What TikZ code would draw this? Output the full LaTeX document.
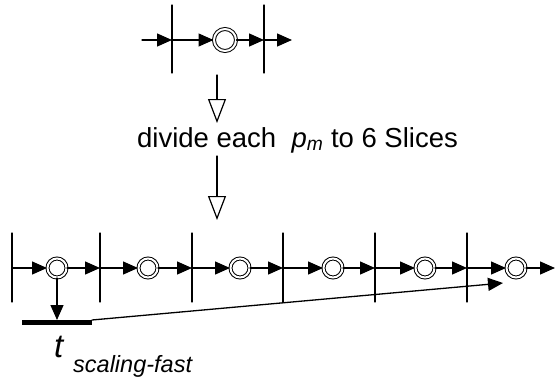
\documentclass[tikz,border=0pt]{standalone}
\usepackage{fontspec}
\setmainfont{Liberation Sans}
\usetikzlibrary{arrows.meta}

\begin{document}
\begin{tikzpicture}[x=1pt, y=-1pt, line cap=round,
  slice/.style={line width=1.3pt},
  ring/.style={circle, draw, double, double distance=2pt, line width=1pt,
    inner sep=0pt, minimum size=#1},
  flow/.style={-{Triangle[length=15pt,width=13pt]}, line width=1.3pt},
  hollow/.style={-{Triangle[open,length=24pt,width=18pt]}, line width=1.2pt}]
  \useasboundingbox (0,0) rectangle (558,383);
  % one period, before the split
  \coordinate (topin)  at (142,40);
  \coordinate (topL)   at (172,40);
  \coordinate (topR)   at (264,40);
  \coordinate (topout) at (292,40);
  \node[ring=22pt] (topring) at (225,40) {};
  \draw[slice] (topL) ++(0,-35) -- ++(0,68);
  \draw[slice] (topR) ++(0,-35) -- ++(0,68);
  \draw[flow] (topin) -- (topL);
  \draw[flow] (topL) -- (topring);
  \draw[flow] (topring) -- (topR);
  \draw[flow] (topR) -- (topout);
  % the step in between
  \node[anchor=base, inner sep=0pt] (divide) at (297.5,147)
    {\fontsize{27.5}{28}\selectfont divide each \ \textit{p}\textsubscript{\textit{m}} to 6 Slices};
  \coordinate (downA) at (217,75);
  \coordinate (downB) at (217,123);
  \coordinate (downC) at (217,156);
  \coordinate (downD) at (217,220);
  \draw[hollow] (downA) -- (downB);
  \draw[hollow] (downC) -- (downD);
  % six slices
  \foreach \v/\c [count=\i] in {12/57,100/148,192/240,283/333,375/425,467/516} {
    \coordinate (cut\i) at (\v,268);
    \node[ring=19pt] (ring\i) at (\c,268) {};
    \draw[slice] (\v,233) -- (\v,302);
    \draw[flow] (cut\i) -- (ring\i);
  }
  \foreach \i [evaluate=\i as \j using int(\i+1)] in {1,...,5}
    \draw[flow] (ring\i) -- (cut\j);
  \coordinate (rowend) at (555,268);
  \draw[flow] (ring6) -- (rowend);
  % fast scaling time
  \coordinate (barL) at (22,322);
  \coordinate (barR) at (92,322);
  \coordinate (barhit) at (57,320);
  \coordinate (slantend) at (503,283);
  \draw[line width=5pt, line cap=butt] (barL) -- (barR);
  \draw[flow] (ring1) -- (barhit);
  \draw[flow] (92,320) -- (slantend);
  \node[anchor=base west, inner sep=0pt] (tlabel) at (54,357)
    {\fontsize{33}{33}\selectfont\itshape t};
  \node[anchor=base west, inner sep=0pt] (tsub) at (73,372)
    {\fontsize{23.5}{24}\selectfont\itshape scaling-fast};
\end{tikzpicture}
\end{document}
